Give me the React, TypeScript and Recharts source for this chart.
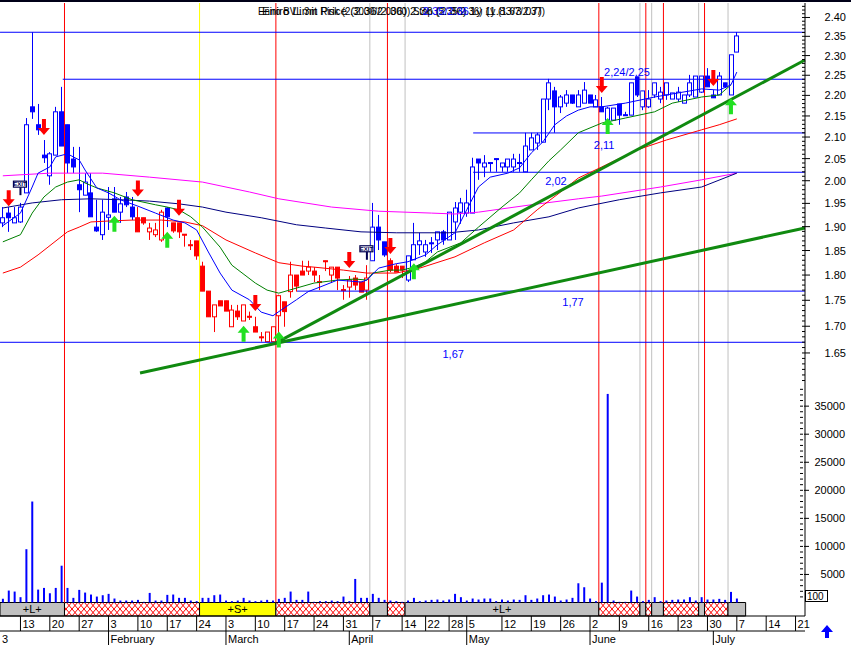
import React from "react";
import {
  ComposedChart,
  Bar,
  Line,
  Scatter,
  XAxis,
  YAxis,
  ReferenceLine,
  ReferenceArea,
  ReferenceDot,
} from "recharts";

// day index 0 = first trading day shown (8 Jan)
const opens = [
  1.908, 1.929, 1.908, 1.91, 1.973, 2.172, 2.129, 2.058, 2.011, 2.058,
  2.16, 2.129, 2.049, 1.991, 1.968, 1.973, 1.899, 1.883, 1.92, 1.96,
  1.931, 1.964, 1.942, 1.919, 1.919, 1.889, 1.883, 1.872, 1.94, 1.908,
  1.908, 1.884, 1.862, 1.87, 1.818, 1.768, 1.718, 1.749, 1.749, 1.699,
  1.729, 1.71, 1.719, 1.699, 1.68, 1.671, 1.671, 1.72, 1.747, 1.767,
  1.8, 1.808, 1.808, 1.808, 1.787, 1.829, 1.8, 1.816, 1.771, 1.776,
  1.794, 1.786, 1.77, 1.829, 1.899, 1.868, 1.829, 1.818, 1.818, 1.79,
  1.831, 1.862, 1.847, 1.866, 1.872, 1.889, 1.872, 1.91, 1.931, 1.929,
  1.929, 2.049, 2.031, 2.041, 2.05, 2.031, 2.031, 2.031, 2.041, 2.02,
  2.07, 2.086, 2.088, 2.191, 2.211, 2.172, 2.181, 2.201, 2.172, 2.181,
  2.201, 2.172, 2.172, 2.14, 2.14, 2.179, 2.153, 2.152, 2.246, 2.172,
  2.172, 2.201, 2.191, 2.201, 2.191, 2.191, 2.181, 2.201, 2.196, 2.208,
  2.248, 2.201, 2.201, 2.231, 2.201, 2.309,
];
const highs = [
  1.942, 1.942, 1.942, 1.951, 2.145, 2.361, 2.179, 2.093, 2.065, 2.172,
  2.221, 2.129, 2.077, 2.077, 2.017, 2.017, 1.958, 1.958, 1.986, 1.986,
  1.964, 1.975, 1.964, 1.942, 1.919, 1.908, 1.908, 1.936, 1.942, 1.908,
  1.908, 1.884, 1.872, 1.87, 1.827, 1.768, 1.741, 1.749, 1.749, 1.741,
  1.741, 1.741, 1.728, 1.718, 1.689, 1.689, 1.699, 1.761, 1.747, 1.827,
  1.8, 1.829, 1.829, 1.816, 1.8, 1.829, 1.816, 1.816, 1.78, 1.798,
  1.8, 1.786, 1.82, 1.951, 1.925, 1.868, 1.834, 1.822, 1.818, 1.839,
  1.908, 1.887, 1.872, 1.878, 1.889, 1.893, 1.931, 1.953, 1.962, 1.98,
  2.052, 2.049, 2.058, 2.041, 2.05, 2.04, 2.049, 2.061, 2.061, 2.11,
  2.11, 2.11, 2.191, 2.241, 2.221, 2.201, 2.213, 2.201, 2.213, 2.233,
  2.201, 2.201, 2.196, 2.172, 2.169, 2.179, 2.16, 2.231, 2.246, 2.211,
  2.213, 2.231, 2.221, 2.231, 2.206, 2.221, 2.201, 2.251, 2.248, 2.248,
  2.268, 2.213, 2.258, 2.231, 2.302, 2.361,
];
const lows = [
  1.899, 1.889, 1.908, 1.908, 1.973, 2.143, 2.105, 2.04, 1.991, 2.058,
  2.079, 2.017, 2.017, 1.931, 1.968, 1.921, 1.889, 1.872, 1.893, 1.931,
  1.908, 1.942, 1.914, 1.889, 1.904, 1.872, 1.878, 1.868, 1.899, 1.887,
  1.876, 1.858, 1.851, 1.831, 1.768, 1.718, 1.689, 1.739, 1.729, 1.699,
  1.712, 1.71, 1.712, 1.689, 1.671, 1.671, 1.67, 1.669, 1.699, 1.755,
  1.767, 1.8, 1.8, 1.786, 1.77, 1.808, 1.784, 1.77, 1.751, 1.755,
  1.77, 1.766, 1.751, 1.829, 1.851, 1.837, 1.806, 1.806, 1.794, 1.786,
  1.831, 1.841, 1.837, 1.845, 1.851, 1.862, 1.872, 1.872, 1.906, 1.921,
  1.929, 2.002, 2.008, 2.02, 2.02, 2.02, 2.02, 2.02, 2.02, 2.02,
  2.07, 2.07, 2.088, 2.164, 2.11, 2.157, 2.172, 2.179, 2.172, 2.181,
  2.181, 2.172, 2.16, 2.112, 2.14, 2.129, 2.152, 2.152, 2.196, 2.164,
  2.169, 2.194, 2.181, 2.189, 2.191, 2.184, 2.181, 2.196, 2.196, 2.206,
  2.221, 2.194, 2.201, 2.218, 2.201, 2.309,
];
const closes = [
  1.919, 1.919, 1.919, 1.942, 2.129, 2.16, 2.117, 2.052, 2.061, 2.16,
  2.079, 2.04, 2.031, 1.98, 1.997, 1.921, 1.891, 1.931, 1.925, 1.931,
  1.949, 1.947, 1.921, 1.889, 1.908, 1.897, 1.893, 1.931, 1.921, 1.891,
  1.889, 1.882, 1.861, 1.839, 1.768, 1.718, 1.741, 1.739, 1.729, 1.731,
  1.718, 1.741, 1.718, 1.689, 1.679, 1.689, 1.699, 1.759, 1.728, 1.8,
  1.778, 1.8, 1.816, 1.8, 1.786, 1.828, 1.816, 1.794, 1.77, 1.79,
  1.78, 1.766, 1.794, 1.899, 1.872, 1.841, 1.81, 1.806, 1.81, 1.839,
  1.862, 1.87, 1.862, 1.865, 1.889, 1.872, 1.931, 1.94, 1.951, 1.951,
  2.031, 2.04, 2.04, 2.04, 2.049, 2.04, 2.049, 2.049, 2.04, 2.079,
  2.098, 2.105, 2.191, 2.231, 2.172, 2.196, 2.201, 2.181, 2.201, 2.213,
  2.181, 2.189, 2.16, 2.169, 2.169, 2.152, 2.152, 2.231, 2.201, 2.211,
  2.191, 2.231, 2.208, 2.231, 2.206, 2.208, 2.201, 2.231, 2.248, 2.248,
  2.221, 2.194, 2.248, 2.221, 2.302, 2.351,
];
const volumes = [
  650, 2130, 1950, 950, 9500, 18000, 2300, 2600, 1650, 2600,
  6560, 2600, 830, 2250, 1770, 1420, 1060, 1300, 1540, 710,
  350, 350, 350, 470, 120, 1710, 350, 350, 1360, 1420,
  830, 830, 350, 240, 830, 830, 1300, 1420, 350, 240,
  350, 830, 350, 240, 350, 470, 350, 650, 830, 1950,
  470, 470, 1950, 120, 240, 240, 350, 240, 1060, 240,
  4200, 830, 830, 1540, 830, 470, 350, 240, 120, 350,
  830, 240, 350, 470, 530, 350, 530, 1540, 950, 350,
  710, 530, 710, 710, 240, 530, 350, 530, 470, 1300,
  470, 710, 1300, 1420, 1060, 350, 530, 830, 3430, 2720,
  710, 240, 3540, 37180, 350, 120, 120, 2130, 1060, 240,
  470, 950, 240, 350, 470, 530, 530, 950, 350, 950,
  530, 530, 650, 470, 1890, 710,
];

// day ranges drawn in red
const redCandleDays = [[23, 27], [29, 62], [66, 68]];

// moving averages, [day, price]
const maFast = [
  [0, 1.902], [3, 1.929], [5, 1.986], [6, 2.017], [8, 2.031], [9, 2.054], [11, 2.061],
  [13, 2.047], [14, 2.024], [16, 1.984], [18, 1.973], [20, 1.958], [23, 1.944], [26, 1.929],
  [29, 1.914], [31, 1.908], [33, 1.893], [35, 1.847], [37, 1.804], [39, 1.77], [42, 1.751],
  [44, 1.727], [46, 1.72], [47, 1.728], [50, 1.751], [52, 1.767], [54, 1.776], [57, 1.79],
  [59, 1.788], [61, 1.786], [62, 1.79], [64, 1.814], [67, 1.823], [69, 1.827], [72, 1.841],
  [74, 1.862], [77, 1.887], [79, 1.936], [81, 1.986], [83, 2.008], [86, 2.017], [88, 2.029],
  [90, 2.063], [92, 2.089], [94, 2.129], [96, 2.15], [98, 2.164], [100, 2.172], [102, 2.172],
  [106, 2.181], [111, 2.196], [115, 2.206], [119, 2.216], [122, 2.213], [124, 2.226], [125, 2.258],
];
const maMid = [
  [0, 1.868], [3, 1.883], [5, 1.929], [7, 1.964], [9, 1.986], [11, 1.997], [13, 2.002],
  [14, 1.995], [16, 1.984], [19, 1.973], [22, 1.958], [26, 1.947], [28, 1.942], [30, 1.936],
  [32, 1.921], [34, 1.899], [37, 1.857], [39, 1.82], [43, 1.784], [45, 1.77], [47, 1.764],
  [50, 1.774], [53, 1.784], [57, 1.79], [60, 1.792], [62, 1.79], [63, 1.804], [66, 1.81],
  [68, 1.81], [70, 1.816], [72, 1.827], [74, 1.847], [78, 1.866], [81, 1.899], [85, 1.942],
  [88, 1.973], [90, 2.002], [93, 2.045], [95, 2.07], [98, 2.11], [102, 2.133], [106, 2.145],
  [111, 2.16], [114, 2.181], [119, 2.196], [122, 2.201], [124, 2.226],
];
const maSlow = [
  [0, 1.804], [3, 1.816], [6, 1.841], [11, 1.889], [13, 1.899], [15, 1.91], [18, 1.912],
  [22, 1.914], [27, 1.914], [31, 1.91], [34, 1.902], [38, 1.872], [43, 1.845], [47, 1.825],
  [51, 1.818], [53, 1.816], [58, 1.81], [62, 1.804], [67, 1.804], [71, 1.814], [77, 1.837],
  [82, 1.866], [87, 1.893], [91, 1.936], [95, 1.975], [98, 2.006], [102, 2.031], [108, 2.07],
  [113, 2.093], [119, 2.117], [122, 2.129], [125, 2.143],
];
const maLong = [
  [0, 1.94], [5, 1.951], [10, 1.958], [15, 1.96], [20, 1.958], [25, 1.955], [30, 1.949],
  [34, 1.942], [38, 1.931], [44, 1.919], [50, 1.904], [55, 1.897], [61, 1.889], [67, 1.887],
  [76, 1.887], [81, 1.893], [87, 1.908], [93, 1.921], [98, 1.94], [105, 1.958], [112, 1.973],
  [119, 1.986], [125, 2.017],
];
const maVeryLong = [
  [0, 2.011], [8, 2.017], [17, 2.017], [25, 2.008], [34, 1.997], [42, 1.975], [47, 1.96],
  [56, 1.942], [64, 1.933], [73, 1.929], [77, 1.927], [81, 1.931], [90, 1.947], [98, 1.96],
  [102, 1.966], [112, 1.986], [119, 2.002], [125, 2.017],
];

// signals, [day, price]
const sellSignals = [[1, 1.944], [7, 2.105], [23, 1.965], [30, 1.923], [43, 1.729], [59, 1.814], [66, 1.843], [102, 2.206], [121, 2.223]];
const buySignals = [[19, 1.923], [28, 1.889], [41, 1.701], [47, 1.69], [70, 1.824], [103, 2.145], [124, 2.193]];
const exitSignals = [[3, 1.968], [62, 1.831]];

// support / resistance levels: [price, fromDay, toDay]
const levels = [[2.3607, -0.48, 136.6], [2.24, 10.2, 136.6], [2.1096, 80.1, 136.6], [2.019, 80.1, 136.6], [1.768, 50.1, 136.6], [1.6698, -0.48, 136.6]];
const levelLabels = [
  { text: "2,24/2,25", i: 106.3, p: 2.258 },
  { text: "2,11", i: 102.4, p: 2.0815 },
  { text: "2,02", i: 94.2, p: 1.999 },
  { text: "1,77", i: 97.1, p: 1.747 },
  { text: "1,67", i: 76.7, p: 1.648 },
];
// trend lines: [day1, price1, day2, price2]
const trendLines = [[23.36, 1.6135, 136.6, 1.8972], [46.52, 1.6687, 136.6, 2.2887]];

const redMarkers = [10.5, 46.5, 65.5, 101.5, 109.5, 112.5, 119.5];
const grayMarkers = [62.5, 68.5, 108.5, 110.5, 118.5, 123.5];
const yellowMarkers = [33.5];

const regimes = [
  [-0.48, 10.5, "L", "+L+"], [10.5, 33.5, "X", ""], [33.5, 46.5, "S", "+S+"],
  [46.5, 62.5, "X", ""], [62.5, 65.5, "L", ""], [65.5, 68.5, "X", ""],
  [68.5, 101.5, "L", "+L+"], [101.5, 108.5, "X", ""], [108.5, 109.5, "L", ""],
  [109.5, 110.5, "X", ""], [110.5, 112.5, "L", ""], [112.5, 118.5, "X", ""],
  [118.5, 119.5, "L", ""], [119.5, 123.5, "X", ""], [123.5, 126.5, "L", ""],
];

const priceTicks = [1.65, 1.7, 1.75, 1.8, 1.85, 1.9, 1.95, 2.0, 2.05, 2.1, 2.15, 2.2, 2.25, 2.3, 2.35, 2.4];
const volumeTicks = [5000, 10000, 15000, 20000, 25000, 30000, 35000];
const minorPriceTicks = Array.from({ length: 84 }, (_, k) => +(1.6 + k * 0.01).toFixed(2));
const minorVolumeTicks = Array.from({ length: 38 }, (_, k) => (k + 1) * 1000);

const weekTicks = [3, 8, 13, 18, 23, 28, 33, 38, 43, 48, 53, 58, 63, 68, 72, 76, 79, 85, 90, 95, 100, 105, 110, 115, 120, 125, 130, 135];
const weekLabels = ["13", "20", "27", "3", "10", "17", "24", "3", "10", "17", "24", "31", "7", "14", "22", "28", "5", "12", "19", "26", "2", "9", "16", "23", "30", "7", "14", "21"];
const monthTicks = [-0.48, 18, 38, 59, 79, 100, 121];
const monthLabels = ["3", "February", "March", "April", "May", "June", "July"];

const DAY_DOMAIN = [-0.484, 136.61];
const PRICE_DOMAIN = [1.23, 2.4391];
const VOLUME_DOMAIN = [-2406, 106863];
const FONT = "'Liberation Sans', Arial, sans-serif";

const rows = opens.map((o, i) => ({
  i,
  o,
  h: highs[i],
  l: lows[i],
  c: closes[i],
  range: [lows[i], highs[i]],
  vol: volumes[i],
}));

const toPoints = (arr: number[][]) => arr.map(([i, p]) => ({ i, p }));

function Candle(props: any) {
  const { x, y, width, height, payload } = props;
  if (x == null || y == null) return null;
  const { o, h, l, c, i } = payload;
  const red = redCandleDays.some(([a, b]) => i >= a && i <= b);
  const color = red ? "#ff0000" : "#0000ff";
  const lnH = Math.log(h);
  const span = lnH - Math.log(l) || 1;
  const yOf = (p: number) => y + ((lnH - Math.log(p)) / span) * height;
  const cx = Math.round(x + width / 2) + 0.5;
  const top = yOf(Math.max(o, c));
  const bot = yOf(Math.min(o, c));
  const up = c >= o;
  return (
    <g>
      <line x1={cx} x2={cx} y1={y} y2={y + height} stroke={color} strokeWidth={1} />
      <rect
        x={cx - 2}
        y={top}
        width={4}
        height={Math.max(1, bot - top)}
        fill={up ? "#ffffff" : color}
        stroke={color}
        strokeWidth={1}
      />
    </g>
  );
}

const SellArrow = ({ cx, cy }: any) => (
  <path d={`M${cx - 2},${cy - 16} h4 v9 h4 l-6,7 l-6,-7 h4 z`} fill="#ff0000" />
);
const BuyArrow = ({ cx, cy }: any) => (
  <path d={`M${cx},${cy} l6,7 h-4 v9 h-4 v-9 h-4 z`} fill="#22e022" />
);
const ExitFlag = ({ cx, cy }: any) => (
  <g>
    <rect x={cx - 1} y={cy - 8} width={2} height={8} fill="#000050" />
    <rect x={cx - 7} y={cy - 14} width={13} height={6} fill="#ffffff" stroke="#000050" strokeWidth={1.2} />
    <text x={cx - 0.5} y={cy - 9} fontSize={6} textAnchor="middle" fill="#000050" fontWeight="bold" fontFamily={FONT}>
      EXIT
    </text>
  </g>
);

const PriceTick = ({ x, y, payload }: any) => (
  <text x={x + 34} y={y} dy={4} textAnchor="end" fontSize={11} fill="#000" fontFamily={FONT}>
    {payload.value.toFixed(2)}
  </text>
);

// volume axis is mirrored (takes no room), so its tick and label are drawn to the right here
const VolumeTick = ({ x, y, payload }: any) => (
  <g>
    <line x1={x} x2={x + 5} y1={y} y2={y} stroke="#000" />
    <text x={x + 41} y={y} dy={4} textAnchor="end" fontSize={11} fill="#000" fontFamily={FONT}>
      {payload.value}
    </text>
  </g>
);

const WeekTick = ({ x, y, payload }: any) => {
  const k = weekTicks.indexOf(payload.value);
  return (
    <g>
      <line x1={x} x2={x} y1={y} y2={y + 15} stroke="#000" />
      <text x={x + 2} y={y + 12} fontSize={11} fill="#000" fontFamily={FONT}>
        {weekLabels[k]}
      </text>
    </g>
  );
};

const MonthTick = ({ x, y, payload }: any) => {
  const k = monthTicks.indexOf(payload.value);
  return (
    <g>
      {payload.value > 0 && <line x1={x} x2={x} y1={y} y2={y + 14} stroke="#000" />}
      <text x={x + 2} y={y + 12} fontSize={11} fill="#000" fontFamily={FONT}>
        {monthLabels[k]}
      </text>
    </g>
  );
};

const maSeries = [
  { data: maVeryLong, color: "#ff00ff" },
  { data: maLong, color: "#000080" },
  { data: maSlow, color: "#ff0000" },
  { data: maMid, color: "#008000" },
  { data: maFast, color: "#0000ff" },
];

export default function App() {
  return (
    <div style={{ position: "relative", width: 851, height: 645, background: "#fff", fontFamily: FONT }}>
      <style>{"body{margin:0}"}</style>
      <ComposedChart
        width={851}
        height={645}
        data={rows}
        margin={{ top: 3, right: 0, bottom: 0, left: 0 }}
      >
        <defs>
          <pattern id="hatch" width="6" height="7" patternUnits="userSpaceOnUse">
            <rect width="6" height="7" fill="#fff" />
            <path d="M0,0 L6,7 M6,0 L0,7" stroke="#ff0000" strokeWidth="1" />
          </pattern>
        </defs>

        <XAxis
          xAxisId="d2"
          dataKey="i"
          type="number"
          domain={DAY_DOMAIN}
          allowDataOverflow
          ticks={monthTicks}
          interval={0}
          height={14}
          tickSize={0}
          tickMargin={0}
          tickLine={false}
          axisLine={{ stroke: "#000" }}
          tick={<MonthTick />}
        />
        <XAxis
          xAxisId="d1"
          dataKey="i"
          type="number"
          domain={DAY_DOMAIN}
          allowDataOverflow
          ticks={weekTicks}
          interval={0}
          height={15}
          tickSize={0}
          tickMargin={0}
          tickLine={false}
          axisLine={{ stroke: "#000" }}
          tick={<WeekTick />}
        />

        <YAxis
          yAxisId="p"
          orientation="right"
          type="number"
          scale="log"
          width={46}
          domain={PRICE_DOMAIN}
          allowDataOverflow
          ticks={priceTicks}
          interval={0}
          tickSize={5}
          tickLine={{ stroke: "#000" }}
          axisLine={{ stroke: "#000" }}
          tick={<PriceTick />}
        />
        <YAxis
          yAxisId="v"
          orientation="right"
          type="number"
          width={1}
          mirror
          domain={VOLUME_DOMAIN}
          allowDataOverflow
          ticks={volumeTicks}
          interval={0}
          tickSize={0}
          tickMargin={0}
          tickLine={false}
          axisLine={false}
          tick={<VolumeTick />}
        />
        <YAxis
          yAxisId="vm"
          orientation="right"
          type="number"
          width={1}
          mirror
          domain={VOLUME_DOMAIN}
          allowDataOverflow
          ticks={minorVolumeTicks}
          interval={0}
          tickSize={3}
          tickLine={{ stroke: "#000" }}
          axisLine={false}
          tickFormatter={() => ""}
        />
        <YAxis
          yAxisId="pm"
          orientation="right"
          type="number"
          scale="log"
          width={1}
          mirror
          domain={PRICE_DOMAIN}
          allowDataOverflow
          ticks={minorPriceTicks}
          interval={0}
          tickSize={3}
          tickLine={{ stroke: "#000" }}
          axisLine={false}
          tickFormatter={() => ""}
        />

        {regimes.map(([a, b, kind, label], k) => (
          <ReferenceArea
            key={`rg${k}`}
            xAxisId="d1"
            yAxisId="v"
            x1={a as number}
            x2={b as number}
            y1={VOLUME_DOMAIN[0]}
            y2={0}
            ifOverflow="visible"
            fill={kind === "L" ? "#c0c0c0" : kind === "S" ? "#ffff00" : "url(#hatch)"}
            fillOpacity={1}
            stroke="#000"
            strokeWidth={1}
            label={label ? { value: label as string, position: "center", fill: "#000", fontSize: 11 } : undefined}
          />
        ))}

        {yellowMarkers.map((d) => (
          <ReferenceLine key={`y${d}`} xAxisId="d1" yAxisId="v" ifOverflow="visible"
            segment={[{ x: d, y: 0 }, { x: d, y: VOLUME_DOMAIN[1] }]} stroke="#ffff00" strokeWidth={1} />
        ))}
        {grayMarkers.map((d) => (
          <ReferenceLine key={`g${d}`} xAxisId="d1" yAxisId="v" ifOverflow="visible"
            segment={[{ x: d, y: 0 }, { x: d, y: VOLUME_DOMAIN[1] }]} stroke="#c0c0c0" strokeWidth={1} />
        ))}
        {redMarkers.map((d) => (
          <ReferenceLine key={`r${d}`} xAxisId="d1" yAxisId="v" ifOverflow="visible"
            segment={[{ x: d, y: 0 }, { x: d, y: VOLUME_DOMAIN[1] }]} stroke="#ff0000" strokeWidth={1} />
        ))}

        {levels.map(([p, a, b], k) => (
          <ReferenceLine key={`lv${k}`} xAxisId="d1" yAxisId="p" ifOverflow="visible"
            segment={[{ x: a, y: p }, { x: b, y: p }]} stroke="#0000ff" strokeWidth={1} />
        ))}

        <Bar
          xAxisId="d2"
          yAxisId="v"
          dataKey="vol"
          barSize={2}
          fill="#0000ff"
          isAnimationActive={false}
        />

        {maSeries.map((m, k) => (
          <Line
            key={`ma${k}`}
            xAxisId="d1"
            yAxisId="p"
            data={toPoints(m.data)}
            dataKey="p"
            type="linear"
            stroke={m.color}
            strokeWidth={1}
            dot={false}
            activeDot={false}
            isAnimationActive={false}
          />
        ))}

        {trendLines.map(([a, p1, b, p2], k) => (
          <ReferenceLine key={`tl${k}`} xAxisId="d1" yAxisId="p" ifOverflow="visible"
            segment={[{ x: a, y: p1 }, { x: b, y: p2 }]} stroke="#108a10" strokeWidth={3} />
        ))}

        <Bar
          xAxisId="d1"
          yAxisId="p"
          dataKey="range"
          barSize={5}
          isAnimationActive={false}
          shape={(props: any) => <Candle {...props} />}
        />

        {levelLabels.map((t) => (
          <ReferenceDot
            key={t.text}
            xAxisId="d1"
            yAxisId="p"
            x={t.i}
            y={t.p}
            ifOverflow="visible"
            shape={(props: any) => (
              <text x={props.cx} y={props.cy} dy={4} textAnchor="middle" fontSize={11} fill="#0000ff" fontFamily={FONT}>
                {t.text}
              </text>
            )}
          />
        ))}

        <Scatter xAxisId="d1" yAxisId="p" data={toPoints(sellSignals)} dataKey="p" shape={<SellArrow />} isAnimationActive={false} />
        <Scatter xAxisId="d1" yAxisId="p" data={toPoints(buySignals)} dataKey="p" shape={<BuyArrow />} isAnimationActive={false} />
        <Scatter xAxisId="d1" yAxisId="p" data={toPoints(exitSignals)} dataKey="p" shape={<ExitFlag />} isAnimationActive={false} />
      </ComposedChart>

      <svg width={851} height={645} style={{ position: "absolute", left: 0, top: 0, pointerEvents: "none" }}>
        <rect x={0} y={0} width={851} height={2} fill="#000018" />
        <text x={258} y={15} fontSize={11} fill="#000" fontFamily={FONT} textLength={287} lengthAdjust="spacingAndGlyphs">
          Eniro BVL 3m Risk (2.3000/2.0000) Stop (2.35/2.36) 1y (1.67/2.37)
        </text>
        <text x={262} y={15} fontSize={11} fill="#000" fontFamily={FONT} textLength={280} lengthAdjust="spacingAndGlyphs">
          Eniro Limit Price (2.36/2.36) 2.36 (2.36) 1y (1.83/3.07)
        </text>
        <text x={423} y={15} fontSize={11} fill="#0000ff" fontFamily={FONT}>
          2.35/2.36
        </text>
        <rect x={805.5} y={590.5} width={22} height={11} fill="#fff" stroke="#000" />
        <text x={807} y={600} fontSize={10} fill="#000" fontFamily={FONT}>
          100
        </text>
        <path d="M827,625 l6,7 h-4 v6 h-4 v-6 h-4 z" fill="#0000ff" />
      </svg>
    </div>
  );
}
